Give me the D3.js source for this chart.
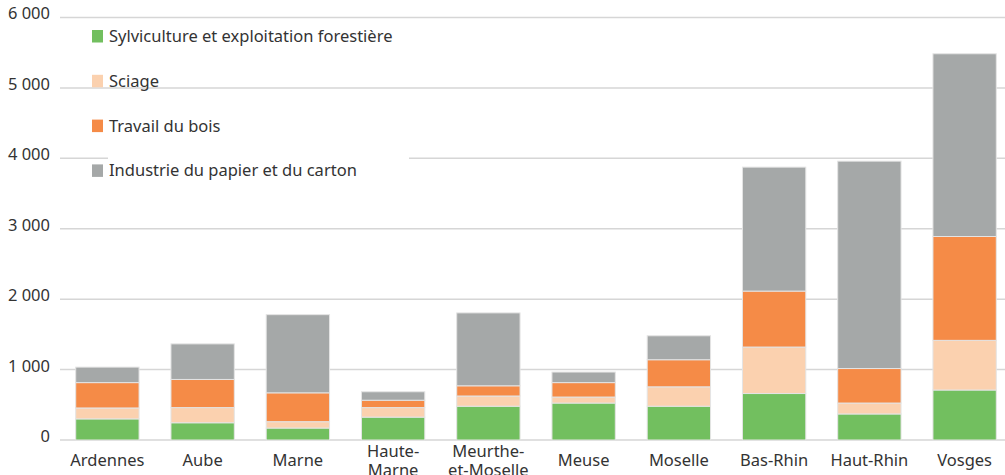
<!DOCTYPE html>
<html>
<head>
<meta charset="utf-8">
<script src="https://cdn.jsdelivr.net/npm/d3@7"></script>
<style>
  body { margin: 0; background: #fff; }
  text { font-family: "Noto Sans", "Open Sans", sans-serif; fill: #333; }
</style>
</head>
<body>
<script>
// departments (labels can wrap on two lines)
var departements = ["Ardennes", "Aube", "Marne", "Haute-Marne", "Meurthe-et-Moselle",
                    "Meuse", "Moselle", "Bas-Rhin", "Haut-Rhin", "Vosges"];
var labelLines = [["Ardennes"], ["Aube"], ["Marne"], ["Haute-", "Marne"], ["Meurthe-", "et-Moselle"],
                  ["Meuse"], ["Moselle"], ["Bas-Rhin"], ["Haut-Rhin"], ["Vosges"]];

var series = ["Sylviculture et exploitation forestière", "Sciage", "Travail du bois",
              "Industrie du papier et du carton"];
var colors = ["#72bf5f", "#fbd1af", "#f58b47", "#a5a8a8"];

var sylviculture = [300, 245, 170, 325, 480, 525, 480, 660, 370, 710];
var sciage       = [155, 215,  90, 135, 145,  85, 275, 660, 155, 705];
var travailBois  = [360, 400, 410, 105, 145, 205, 385, 795, 490, 1475];
var papier       = [220, 505, 1110, 120, 1035, 150, 340, 1760, 2945, 2595];

var yTicks = [0, 1000, 2000, 3000, 4000, 5000, 6000];

var W = 1005, H = 475;
var margin = {top: 17.5, left: 60, bottom: 35};

var svg = d3.select("body").append("svg")
    .attr("width", W)
    .attr("height", H);

var xScale = d3.scaleBand()
    .domain(departements)
    .range([margin.left, 1012])
    .paddingInner(0.335)
    .paddingOuter(0.165);

var yScale = d3.scaleLinear()
    .domain([0, 6000])
    .range([440, margin.top]);

var fmt = function(v) { return d3.format(",")(v).replace(/,/g, " "); };

// gridlines
svg.append("g").selectAll("line")
    .data(yTicks)
  .enter().append("line")
    .attr("x1", margin.left)
    .attr("x2", W)
    .attr("y1", function(d) { return yScale(d); })
    .attr("y2", function(d) { return yScale(d); })
    .attr("stroke", "#d6d6d6")
    .attr("stroke-width", 1.5);

// y labels
svg.append("g").selectAll("text")
    .data(yTicks)
  .enter().append("text")
    .attr("x", 50)
    .attr("y", function(d) { return yScale(d); })
    .attr("dy", "0.12em")
    .attr("text-anchor", "end")
    .style("font-size", "16.5px")
    .text(fmt);

// stack the data
var rows = departements.map(function(d, i) {
  return {dep: d, s0: sylviculture[i], s1: sciage[i], s2: travailBois[i], s3: papier[i]};
});
var stacked = d3.stack().keys(["s0", "s1", "s2", "s3"])(rows);

svg.append("g").selectAll("g")
    .data(stacked)
  .enter().append("g")
    .attr("fill", function(d, i) { return colors[i]; })
  .selectAll("rect")
    .data(function(d) { return d; })
  .enter().append("rect")
    .attr("x", function(d) { return xScale(d.data.dep); })
    .attr("width", xScale.bandwidth())
    .attr("y", function(d) { return yScale(d[1]); })
    .attr("height", function(d) { return yScale(d[0]) - yScale(d[1]); })
    .attr("stroke", "#e4e4e4")
    .attr("stroke-width", 1);

// x labels
var xl = svg.append("g").selectAll("text")
    .data(labelLines)
  .enter().append("text")
    .attr("text-anchor", "middle")
    .style("font-size", "16.5px")
    .attr("x", function(d, i) { return xScale(departements[i]) + xScale.bandwidth() / 2; })
    .attr("y", function(d) { return d.length > 1 ? 457 : 466; });
xl.selectAll("tspan")
    .data(function(d) { return d; })
  .enter().append("tspan")
    .attr("x", function() { return d3.select(this.parentNode).attr("x"); })
    .attr("dy", function(d, j) { return j === 0 ? 0 : 19; })
    .text(function(d) { return d; });

// legend
var legend = svg.append("g");
legend.append("rect")
    .attr("x", 108).attr("y", 150)
    .attr("width", 301).attr("height", 36)
    .attr("fill", "#fff");

var item = legend.selectAll(".item")
    .data(series)
  .enter().append("g")
    .attr("class", "item")
    .attr("transform", function(d, i) { return "translate(92," + (30 + i * 44.8) + ")"; });
item.append("rect")
    .attr("width", 11).attr("height", 12.5)
    .attr("fill", function(d, i) { return colors[i]; });
item.append("text")
    .attr("x", 17)
    .attr("y", 12)
    .style("font-size", "16.5px")
    .text(function(d) { return d; });
</script>
</body>
</html>
